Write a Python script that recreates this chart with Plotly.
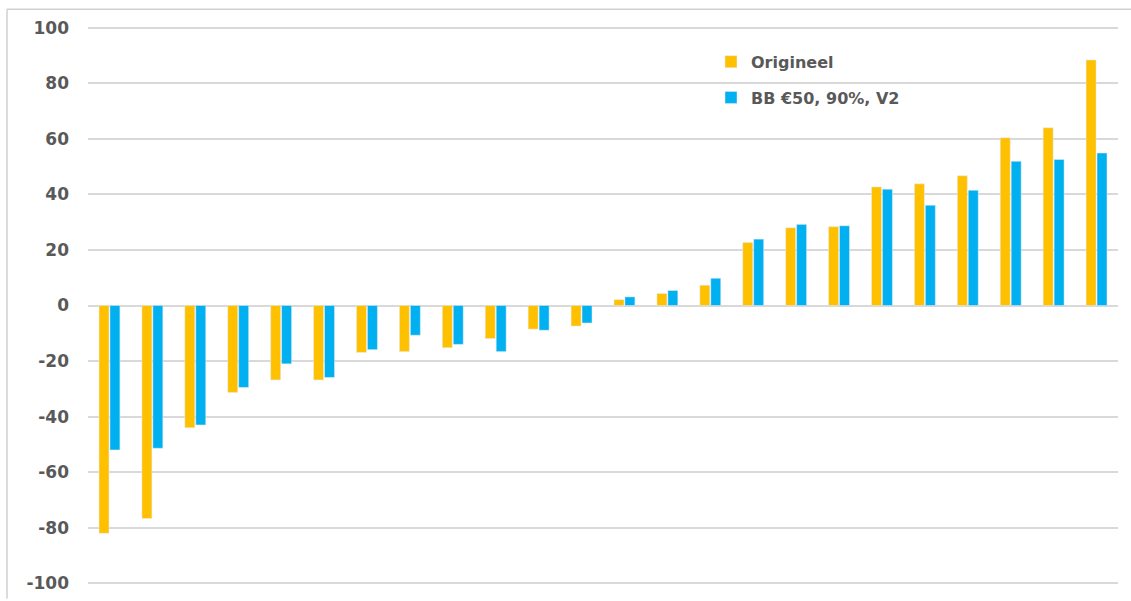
import plotly.graph_objects as go

categories = [f"C{i}" for i in range(1, 25)]
origineel = [-82, -76.7, -44, -31.3, -26.8, -26.8, -16.9, -16.6, -15.2, -11.9, -8.5, -7.4,
             2.1, 4.3, 7.3, 22.7, 28.0, 28.4, 42.7, 43.8, 46.7, 60.4, 64.0, 88.4]
bb_v2 = [-52, -51.4, -43, -29.5, -21, -25.9, -15.9, -10.7, -14.0, -16.6, -8.9, -6.3,
         3.1, 5.4, 9.8, 23.9, 29.2, 28.7, 41.9, 36.1, 41.5, 51.9, 52.6, 54.9]
tick_vals = [-100, -80, -60, -40, -20, 0, 20, 40, 60, 80, 100]

FONT = "DejaVu Sans"
GRAY = "#595959"
GRID = "#d9d9d9"

fig = go.Figure()
fig.add_trace(go.Bar(x=categories, y=origineel, name="<b>Origineel</b>",
                     marker_color="#FFC000", legendgroup="a"))
fig.add_trace(go.Bar(x=categories, y=bb_v2, name="<b>BB €50, 90%, V2</b>",
                     marker_color="#00B0F0", legendgroup="b"))

W, H = 1131, 601
ml, mr, mt, mb = 88, 13, 25, 8
pw, ph = W - ml - mr, H - mt - mb

def px_x(x):
    return (x - ml) / pw

def px_y(y):
    return (H - mb - y) / ph

fig.update_layout(
    width=W, height=H,
    margin=dict(l=ml, r=mr, t=mt, b=mb, pad=0),
    paper_bgcolor="white", plot_bgcolor="white",
    barmode="group", bargap=0.49, bargroupgap=0.09,
    font=dict(family=FONT, color=GRAY, size=16),
    showlegend=True,
    legend=dict(x=px_x(711), y=px_y(45), xanchor="left", yanchor="top",
                traceorder="grouped", tracegroupgap=12,
                font=dict(family=FONT, size=16, color=GRAY),
                bgcolor="rgba(0,0,0,0)"),
    xaxis=dict(showticklabels=False, showgrid=False, zeroline=False, showline=False,
               ticks=""),
    yaxis=dict(range=[-101, 101], tickvals=tick_vals,
               ticktext=[f"<b>{v}</b>" for v in tick_vals],
               showgrid=True, gridcolor=GRID, gridwidth=1.5,
               zeroline=True, zerolinecolor=GRID, zerolinewidth=1.5,
               showline=False, ticks="", ticklabelstandoff=18,
               tickfont=dict(family=FONT, size=17, color=GRAY)),
    shapes=[
        dict(type="line", xref="paper", yref="paper",
             x0=px_x(7), x1=px_x(W + 5), y0=px_y(9), y1=px_y(9),
             line=dict(color="#d0d0d0", width=1.5)),
        dict(type="line", xref="paper", yref="paper",
             x0=px_x(7), x1=px_x(7), y0=px_y(9), y1=px_y(H + 5),
             line=dict(color="#d0d0d0", width=1.5)),
    ],
)

fig.write_html("out.html")
